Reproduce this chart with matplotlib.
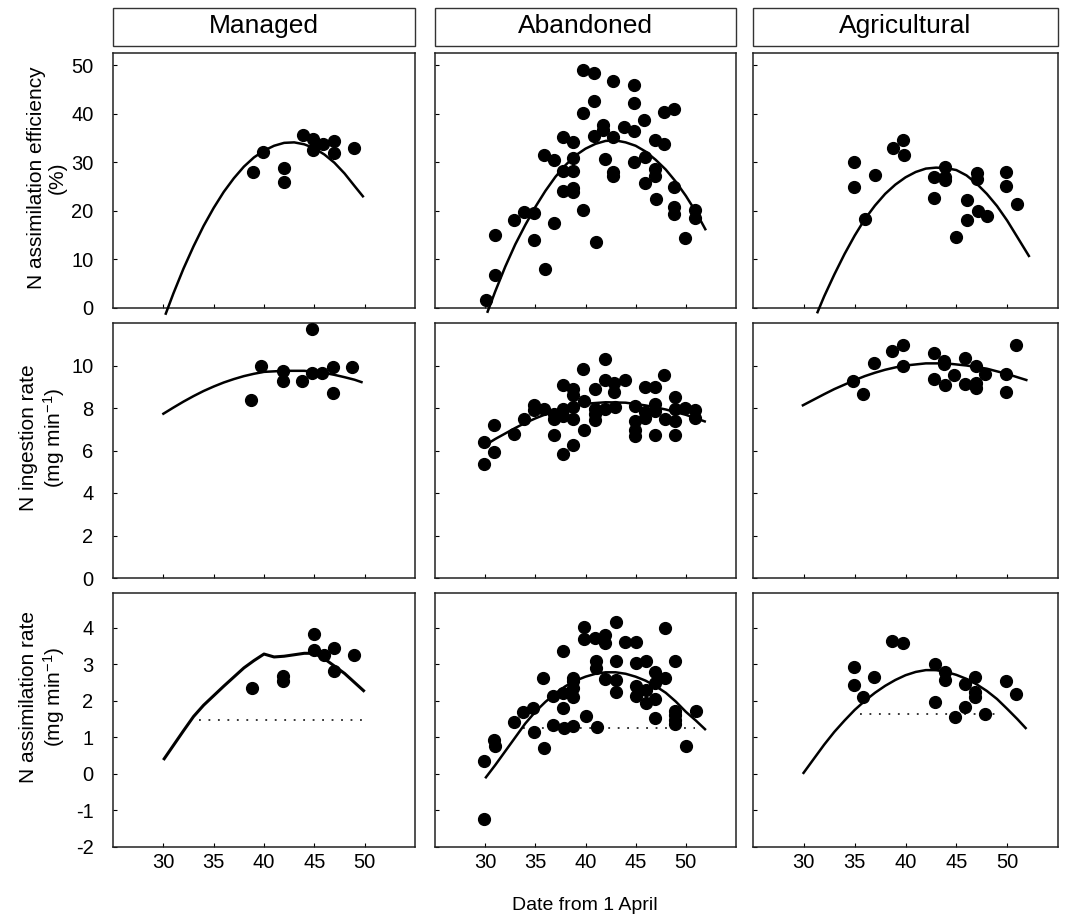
import matplotlib
matplotlib.use('Agg')
import matplotlib.pyplot as plt
from matplotlib.patches import Rectangle

plt.rcParams['font.family'] = ['Liberation Sans', 'DejaVu Sans']
plt.rcParams['mathtext.default'] = 'regular'
plt.rcParams['axes.unicode_minus'] = False

# ---- data (days from 1 April) ----
groups = ['Managed', 'Abandoned', 'Agricultural']
row_labels = ['N assimilation efficiency\n(%)',
              'N ingestion rate\n(mg min$^{-1}$)',
              'N assimilation rate\n(mg min$^{-1}$)']
x_ticks = [30, 35, 40, 45, 50]

# N assimilation efficiency (%)
man_eff_x = [38.9, 39.9, 42.0, 42.0, 43.9, 44.9, 44.9, 45.9, 47.0, 47.0, 48.9]
man_eff_y = [27.9, 32.2, 28.8, 26.0, 35.6, 34.7, 32.6, 33.7, 34.4, 31.9, 33.0]
man_eff_fit_x = [30.2, 31, 32, 33, 34, 35, 36, 37, 38, 39, 40, 41, 42, 43, 44, 45, 46, 47, 48, 49, 49.9]
man_eff_fit_y = [-1.4, 3.0, 8.1, 12.7, 16.9, 20.6, 23.9, 26.7, 29.1, 31.0, 32.4, 33.4, 34.0, 34.1,
                 33.7, 32.9, 31.6, 29.9, 27.7, 25.1, 22.8]

aba_eff_x = [30.1, 31.0, 31.0, 32.9, 33.9, 34.9, 34.9, 35.9, 36.0, 36.9, 36.9, 37.8, 37.8, 37.8,
             38.8, 38.8, 38.8, 38.8, 38.8, 39.8, 39.8, 39.8, 40.8, 40.8, 40.8, 41.0, 41.7, 41.7,
             41.9, 42.7, 42.7, 42.7, 42.7, 43.8, 44.8, 44.8, 44.8, 44.8, 45.8, 45.9, 45.9, 46.9,
             46.9, 46.9, 47.0, 47.8, 47.8, 48.8, 48.8, 48.8, 48.8, 49.9, 50.9, 50.9]
aba_eff_y = [1.7, 15.0, 6.7, 18.2, 19.7, 19.5, 14.0, 31.4, 8.1, 30.5, 17.6, 35.2, 28.3, 24.0,
             34.1, 30.8, 28.3, 24.8, 23.8, 49.0, 40.1, 20.2, 48.3, 42.6, 35.5, 13.6, 37.6, 36.7,
             30.6, 46.8, 35.2, 28.1, 27.2, 37.2, 45.9, 42.3, 36.4, 30.0, 38.8, 31.0, 25.7, 34.6,
             28.6, 27.2, 22.4, 40.3, 33.8, 41.0, 25.0, 20.8, 19.4, 14.5, 20.2, 18.6]
aba_eff_fit_x = [30.2, 31, 32, 33, 34, 35, 36, 37, 38, 39, 40, 41, 42, 43, 44, 45, 46, 47, 48,
                 49, 50, 51, 52]
aba_eff_fit_y = [-1.0, 3.4, 8.5, 13.1, 17.1, 20.8, 24.1, 27.0, 29.4, 31.4, 32.8, 33.8, 34.4, 34.5,
                 34.1, 33.4, 32.2, 30.5, 28.5, 26.0, 23.1, 19.8, 16.0]

agr_eff_x = [34.9, 34.9, 36.0, 37.0, 38.8, 39.8, 39.9, 42.8, 42.8, 43.9, 43.9, 43.9, 45.0,
             46.0, 46.0, 47.0, 47.0, 47.1, 48.0, 49.9, 49.9, 51.0]
agr_eff_y = [30.1, 25.0, 18.4, 27.4, 32.9, 34.5, 31.4, 26.9, 22.7, 29.1, 27.0, 26.3, 14.6,
             22.2, 18.2, 27.7, 26.5, 20.0, 18.9, 28.1, 25.2, 21.5]
agr_eff_fit_x = [31.3, 32, 33, 34, 35, 36, 37, 38, 39, 40, 41, 42, 43, 44, 45, 46, 47, 48, 49,
                 50, 51, 52.2]
agr_eff_fit_y = [-1.1, 2.4, 6.9, 11.1, 14.9, 18.3, 21.1, 23.5, 25.4, 26.9, 28.0, 28.7, 28.9, 28.8,
                 28.4, 27.3, 25.6, 23.5, 21.0, 18.0, 14.6, 10.5]

# N ingestion rate (mg min-1)
man_ing_x = [38.75, 39.7, 41.9, 41.9, 43.8, 44.8, 44.8, 45.8, 46.9, 46.9, 48.75]
man_ing_y = [8.39, 9.99, 9.73, 9.29, 9.25, 11.72, 9.65, 9.65, 9.93, 8.71, 9.93]
man_ing_fit_x = [29.9, 31, 32, 33, 34, 35, 36, 37, 38, 39, 40, 42, 44, 46, 47, 48, 49, 49.8]
man_ing_fit_y = [7.7, 8.02, 8.3, 8.56, 8.8, 9.01, 9.2, 9.36, 9.5, 9.61, 9.7, 9.75, 9.75, 9.65,
                 9.56, 9.45, 9.33, 9.2]

aba_ing_x = [29.9, 29.9, 30.9, 30.9, 32.9, 33.9, 34.9, 34.9, 35.9, 36.9, 36.9, 36.9, 37.8, 37.8,
             37.8, 37.8, 38.8, 38.8, 38.8, 38.8, 38.8, 39.8, 39.9, 39.9, 40.9, 40.9, 40.9, 40.9,
             41.9, 41.9, 41.9, 42.8, 42.8, 42.9, 43.9, 44.9, 44.9, 44.9, 44.9, 45.9, 45.9, 45.9,
             46.9, 46.9, 46.9, 46.9, 47.8, 47.9, 48.9, 48.9, 48.9, 48.9, 49.9, 50.9, 50.9]
aba_ing_y = [6.38, 5.36, 7.19, 5.94, 6.8, 7.5, 8.13, 7.9, 7.94, 7.73, 7.47, 6.72, 9.09, 7.97,
             7.63, 5.83, 8.88, 8.63, 8.05, 7.5, 6.28, 9.84, 8.31, 6.95, 8.9, 7.97, 7.73, 7.42,
             10.3, 9.3, 7.97, 9.19, 8.75, 8.05, 9.3, 8.08, 7.38, 6.95, 6.69, 8.98, 7.81, 7.53,
             8.98, 8.2, 7.84, 6.75, 9.53, 7.5, 8.52, 7.97, 7.38, 6.72, 8.0, 7.89, 7.53]
aba_ing_fit_x = [30, 31, 32, 33, 34, 35, 36, 37, 38, 39, 40, 42, 44, 46, 48, 50, 52]
aba_ing_fit_y = [6.25, 6.54, 6.8, 7.06, 7.3, 7.51, 7.7, 7.86, 8.0, 8.11, 8.2, 8.27, 8.25, 8.12,
                 7.93, 7.68, 7.35]

agr_ing_x = [34.8, 35.8, 36.9, 38.7, 39.8, 39.8, 42.8, 42.8, 43.8, 43.8, 43.9, 44.8, 45.9, 45.9,
             46.9, 46.9, 46.9, 47.8, 49.9, 49.9, 50.9]
agr_ing_y = [9.25, 8.65, 10.14, 10.69, 10.97, 9.98, 10.61, 9.37, 10.19, 10.06, 9.09, 9.53, 10.35,
             9.12, 10.0, 9.17, 8.93, 9.59, 9.6, 8.77, 10.97]
agr_ing_fit_x = [29.8, 31, 32, 33, 34, 35, 36, 37, 38, 39, 40, 42, 44, 46, 48, 50, 52]
agr_ing_fit_y = [8.1, 8.4, 8.65, 8.89, 9.1, 9.31, 9.5, 9.66, 9.8, 9.91, 10.0, 10.1, 10.1, 10.0,
                 9.85, 9.6, 9.3]

# N assimilation rate (mg min-1)
man_rate_x = [38.85, 41.9, 41.9, 45.0, 45.0, 46.0, 47.0, 47.0, 48.9]
man_rate_y = [2.35, 2.68, 2.55, 3.84, 3.38, 3.26, 3.44, 2.82, 3.25]
man_rate_fit_x = [30, 31, 32, 33, 34, 35, 36, 37, 38, 39, 40, 41, 42, 43, 44, 45, 46, 47, 48, 49, 50]
man_rate_fit_y = [0.38, 0.78, 1.18, 1.57, 1.88, 2.14, 2.4, 2.65, 2.9, 3.1, 3.28, 3.2, 3.22, 3.26,
                  3.3, 3.3, 3.15, 2.95, 2.75, 2.5, 2.25]
man_rate_ref_x = [33.5, 50.0]
man_rate_ref_y = [1.48, 1.48]

aba_rate_x = [29.9, 29.9, 30.9, 31.0, 32.9, 33.8, 34.8, 34.9, 35.8, 35.9, 36.8, 36.8, 37.8, 37.8,
              37.8, 37.9, 38.8, 38.8, 38.8, 38.8, 38.8, 39.9, 39.9, 40.0, 40.9, 41.0, 41.0, 41.1,
              41.9, 41.9, 41.9, 43.0, 43.0, 43.0, 43.0, 43.9, 45.0, 45.0, 45.0, 45.0, 46.0, 46.0,
              46.0, 46.9, 46.9, 46.9, 46.9, 47.9, 47.9, 48.9, 48.9, 48.9, 48.9, 48.9, 50.0, 51.0]
aba_rate_y = [0.36, -1.24, 0.93, 0.75, 1.41, 1.7, 1.81, 1.14, 2.63, 0.70, 2.13, 1.34, 3.36, 2.22,
              1.81, 1.25, 2.62, 2.53, 2.36, 2.11, 1.31, 4.03, 3.68, 1.59, 3.73, 3.09, 2.91, 1.28,
              3.80, 3.57, 2.6, 4.15, 3.09, 2.57, 2.25, 3.62, 3.62, 3.04, 2.41, 2.13, 3.09, 2.3,
              1.93, 2.80, 2.48, 2.05, 1.52, 3.98, 2.62, 3.1, 1.72, 1.6, 1.48, 1.36, 0.77, 1.72]
aba_rate_fit_x = [30, 31, 32, 33, 34, 35, 36, 37, 38, 39, 40, 41, 42, 43, 44, 45, 46, 47, 48,
                  49, 50, 51, 52]
aba_rate_fit_y = [-0.12, 0.24, 0.62, 1.0, 1.38, 1.7, 1.97, 2.2, 2.4, 2.55, 2.66, 2.74, 2.78, 2.78,
                  2.74, 2.66, 2.55, 2.4, 2.22, 1.98, 1.7, 1.46, 1.2]
aba_rate_ref_x = [33.8, 50.9]
aba_rate_ref_y = [1.25, 1.25]

agr_rate_x = [34.9, 34.9, 35.8, 36.9, 38.7, 39.8, 42.9, 42.9, 43.9, 43.9, 44.9, 45.9, 45.9, 46.8,
              46.8, 46.8, 47.85, 49.9, 50.85]
agr_rate_y = [2.93, 2.44, 2.11, 2.64, 3.64, 3.57, 3.0, 1.97, 2.79, 2.56, 1.56, 2.47, 1.82, 2.65,
              2.23, 2.11, 1.65, 2.55, 2.18]
agr_rate_fit_x = [29.9, 31, 32, 33, 34, 35, 36, 37, 38, 39, 40, 41, 42, 43, 44, 45, 46, 47, 48,
                  49, 50, 51, 51.9]
agr_rate_fit_y = [0.0, 0.42, 0.8, 1.15, 1.46, 1.75, 2.0, 2.22, 2.41, 2.57, 2.7, 2.79, 2.84, 2.84,
                  2.79, 2.71, 2.6, 2.45, 2.27, 2.05, 1.78, 1.5, 1.23]
agr_rate_ref_x = [35.5, 49.4]
agr_rate_ref_y = [1.65, 1.65]

panels = [
    [(man_eff_x, man_eff_y, man_eff_fit_x, man_eff_fit_y, None),
     (aba_eff_x, aba_eff_y, aba_eff_fit_x, aba_eff_fit_y, None),
     (agr_eff_x, agr_eff_y, agr_eff_fit_x, agr_eff_fit_y, None)],
    [(man_ing_x, man_ing_y, man_ing_fit_x, man_ing_fit_y, None),
     (aba_ing_x, aba_ing_y, aba_ing_fit_x, aba_ing_fit_y, None),
     (agr_ing_x, agr_ing_y, agr_ing_fit_x, agr_ing_fit_y, None)],
    [(man_rate_x, man_rate_y, man_rate_fit_x, man_rate_fit_y, (man_rate_ref_x, man_rate_ref_y)),
     (aba_rate_x, aba_rate_y, aba_rate_fit_x, aba_rate_fit_y, (aba_rate_ref_x, aba_rate_ref_y)),
     (agr_rate_x, agr_rate_y, agr_rate_fit_x, agr_rate_fit_y, (agr_rate_ref_x, agr_rate_ref_y))],
]
y_limits = [(0, 52.5), (0, 12), (-2, 4.95)]
y_ticks = [[0, 10, 20, 30, 40, 50], [0, 2, 4, 6, 8, 10], [-2, -1, 0, 1, 2, 3, 4]]
label_y = [0.51, 0.55, 0.59]

# ---- layout in pixels ----
W, H = 1066, 924
cols = [(113, 415), (435, 736), (753, 1058)]
rows = [(53, 308), (323, 578), (593, 847)]


def px_rect(x0, y0, x1, y1):
    return [x0 / W, 1 - y1 / H, (x1 - x0) / W, (y1 - y0) / H]


fig = plt.figure(figsize=(W / 100, H / 100), dpi=100)

for c, (x0, x1) in enumerate(cols):
    fig.add_artist(Rectangle((x0 / W, 1 - 46 / H), (x1 - x0) / W, 38 / H,
                             transform=fig.transFigure, fill=False, edgecolor='#333333', lw=1.0))
    fig.text((x0 + x1) / 2 / W, 1 - 26 / H, groups[c], ha='center', va='center', fontsize=19)

for r, (y0, y1) in enumerate(rows):
    for c, (x0, x1) in enumerate(cols):
        ax = fig.add_axes(px_rect(x0, y0, x1, y1))
        px, py, fx, fy, ref = panels[r][c]
        ax.plot(fx, fy, color='black', lw=2.2 if (r == 2 and c == 0) else 1.8, clip_on=False,
                solid_joinstyle='round', solid_capstyle='butt', zorder=3)
        if ref is not None:
            ax.plot(ref[0], ref[1], color='black', lw=1.1, linestyle=(0, (1.2, 5)), zorder=2)
        ax.plot(px, py, 'o', color='black', markersize=8.5, zorder=4, clip_on=False)
        ax.set_xlim(25, 55)
        ax.set_ylim(*y_limits[r])
        ax.set_xticks(x_ticks)
        ax.set_yticks(y_ticks[r])
        ax.tick_params(direction='in', length=3, width=0.8, labelsize=14.5, colors='black')
        ax.tick_params(axis='y', pad=14)
        ax.tick_params(axis='x', pad=4)
        if r < 2:
            ax.set_xticklabels([])
        if c > 0:
            ax.set_yticklabels([])
        else:
            ax.set_ylabel(row_labels[r], fontsize=15, linespacing=1.15)
            ax.yaxis.set_label_coords(-0.152, label_y[r])
        for s in ax.spines.values():
            s.set_linewidth(1.1)
            s.set_color('#222222')

fig.text(585 / W, 1 - 905 / H, 'Date from 1 April', ha='center', va='center', fontsize=14)

fig.savefig('out.png', dpi=100)
